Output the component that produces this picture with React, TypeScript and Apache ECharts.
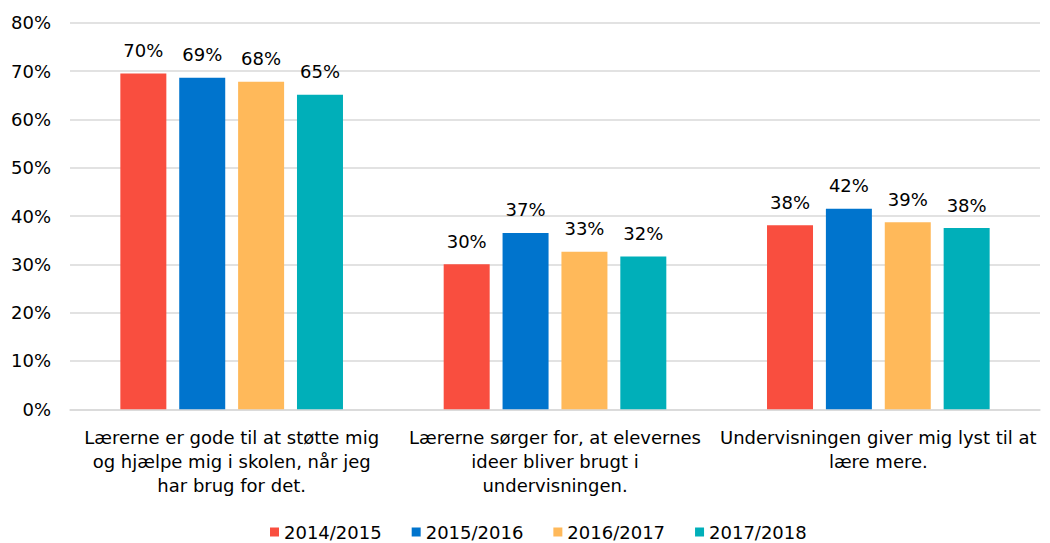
import React, { useEffect, useRef } from "react";
import * as echarts from "echarts";

const categories = [
  "Lærerne er gode til at støtte mig\nog hjælpe mig i skolen, når jeg\nhar brug for det.",
  "Lærerne sørger for, at elevernes\nideer bliver brugt i\nundervisningen.",
  "Undervisningen giver mig lyst til at\nlære mere.",
];
const seriesNames = ["2014/2015", "2015/2016", "2016/2017", "2017/2018"];
const s2014 = [69.5, 30.0, 38.1];
const s2015 = [68.6, 36.5, 41.5];
const s2016 = [67.8, 32.6, 38.7];
const s2017 = [65.1, 31.6, 37.5];
const colors = ["#F94E3F", "#0074CD", "#FFB95A", "#00AFB9"];
const yTicks = { min: 0, max: 80, interval: 10 };

const FONT = "DejaVu Sans";

export default function App() {
  const ref = useRef<HTMLDivElement>(null);
  useEffect(() => {
    if (!ref.current) return;
    const chart = echarts.init(ref.current, undefined, { renderer: "svg" });
    const data = [s2014, s2015, s2016, s2017];
    chart.setOption({
      animation: false,
      textStyle: { fontFamily: FONT },
      legend: {
        data: seriesNames,
        top: 518,
        left: 265,
        itemWidth: 9,
        itemHeight: 9,
        itemGap: 30,
        icon: "rect",
        textStyle: { fontFamily: FONT, fontSize: 18, color: "#000" },
      },
      grid: { left: 70, right: 10, top: 22.7, bottom: 133.7, containLabel: false },
      xAxis: {
        type: "category",
        data: categories,
        axisLine: { show: true, lineStyle: { color: "#d9d9d9", width: 1.5 } },
        axisTick: { show: false },
        axisLabel: {
          interval: 0,
          fontFamily: FONT,
          fontSize: 18,
          color: "#000",
          lineHeight: 24,
          margin: 16,
          align: "center",
        },
      },
      yAxis: {
        type: "value",
        min: yTicks.min,
        max: yTicks.max,
        interval: yTicks.interval,
        axisLine: { show: false },
        axisTick: { show: false },
        splitLine: { lineStyle: { color: "#d9d9d9", width: 1.5 } },
        axisLabel: {
          formatter: (v: number) => `${v}%`,
          fontFamily: FONT,
          fontSize: 18,
          color: "#000",
          margin: 19,
        },
      },
      series: seriesNames.map((name, i) => ({
        name,
        type: "bar",
        data: data[i],
        barWidth: 46,
        barGap: "28%",
        itemStyle: { color: colors[i] },
        label: {
          show: true,
          position: "top",
          distance: 14,
          formatter: (p: any) => `${Math.round(p.value)}%`,
          fontFamily: FONT,
          fontSize: 18,
          color: "#000",
        },
      })),
    });
    return () => chart.dispose();
  }, []);
  return (
    <div
      ref={ref}
      style={{ position: "fixed", left: 0, top: 0, width: 1050, height: 543, background: "#fff" }}
    />
  );
}
